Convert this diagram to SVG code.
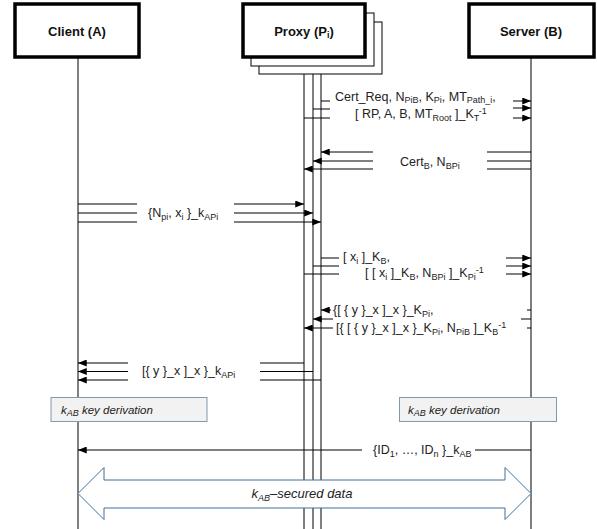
<svg xmlns="http://www.w3.org/2000/svg" width="597" height="529" viewBox="0 0 597 529">
<style>
  .box{fill:#fff;stroke:#000;stroke-width:3.5}
  .sbox{fill:#fff;stroke:#000;stroke-width:1}
  .life{stroke:#000;stroke-width:1;fill:none}
  .msg{stroke:#000;stroke-width:1;fill:none}
  .hd{font-family:"Liberation Sans",Arial,sans-serif;font-weight:bold;font-size:13px;fill:#111;text-anchor:middle}
  .t{font-family:"Liberation Sans",Arial,sans-serif;font-size:12.5px;fill:#222}
  .kt{font-size:11.5px}
  .dt{font-size:13px}
  .it{font-style:italic}
  .s{font-size:9px}
  .kd{fill:#f2f2f2;stroke:#8497b0;stroke-width:1}
  .dbl{fill:#fff;stroke:#41719c;stroke-width:1}
</style>
<defs>
  <marker id="ah" viewBox="0 0 10 8" refX="10" refY="4" markerWidth="9" markerHeight="7" orient="auto" markerUnits="userSpaceOnUse">
    <path d="M0,0 L10,4 L0,8 z" fill="#000"/>
  </marker>
</defs>

<g id="lifelines">
  <line class="life" x1="78" y1="57" x2="78" y2="529"/>
  <line class="life" x1="304" y1="57" x2="304" y2="529"/>
  <line class="life" x1="313" y1="66" x2="313" y2="529"/>
  <line class="life" x1="321" y1="74" x2="321" y2="529"/>
  <line class="life" x1="531" y1="57" x2="531" y2="529"/>
</g>

<g id="client">
  <rect class="box" x="15" y="4" width="124" height="53"/>
  <text class="hd" x="77" y="36">Client (A)</text>
</g>

<g id="proxy">
  <rect class="sbox" x="259" y="22" width="123" height="52"/>
  <rect class="sbox" x="251" y="13" width="123" height="53"/>
  <rect class="box" x="243" y="4" width="122" height="53"/>
  <text class="hd" x="304" y="36">Proxy (P<tspan class="s" dy="2">i</tspan><tspan dy="-2">)</tspan></text>
</g>

<g id="server">
  <rect class="box" x="469" y="4" width="125" height="53"/>
  <text class="hd" x="531" y="36">Server (B)</text>
</g>

<g id="connectors">
  <!-- msg 1 proxy -> server -->
  <line class="msg" x1="321" y1="101" x2="330" y2="101"/>
  <line class="msg" x1="313" y1="109" x2="330" y2="109"/>
  <line class="msg" x1="304" y1="118" x2="330" y2="118"/>
  <line class="msg" x1="513" y1="101" x2="531" y2="101" marker-end="url(#ah)"/>
  <line class="msg" x1="513" y1="108" x2="531" y2="108" marker-end="url(#ah)"/>
  <line class="msg" x1="513" y1="118" x2="531" y2="118" marker-end="url(#ah)"/>
  <!-- msg 2 server -> proxy -->
  <line class="msg" x1="373" y1="152" x2="321" y2="152" marker-end="url(#ah)"/>
  <line class="msg" x1="373" y1="161" x2="313" y2="161" marker-end="url(#ah)"/>
  <line class="msg" x1="373" y1="169" x2="304" y2="169" marker-end="url(#ah)"/>
  <line class="msg" x1="487" y1="152" x2="531" y2="152"/>
  <line class="msg" x1="487" y1="161" x2="531" y2="161"/>
  <line class="msg" x1="487" y1="169" x2="531" y2="169"/>
  <!-- msg 3 client -> proxy -->
  <line class="msg" x1="78" y1="204" x2="137" y2="204"/>
  <line class="msg" x1="78" y1="213" x2="137" y2="213"/>
  <line class="msg" x1="78" y1="222" x2="137" y2="222"/>
  <line class="msg" x1="234" y1="204" x2="304" y2="204" marker-end="url(#ah)"/>
  <line class="msg" x1="234" y1="213" x2="313" y2="213" marker-end="url(#ah)"/>
  <line class="msg" x1="234" y1="222" x2="321" y2="222" marker-end="url(#ah)"/>
  <!-- msg 4 proxy -> server -->
  <line class="msg" x1="321" y1="258" x2="339" y2="258"/>
  <line class="msg" x1="313" y1="266" x2="339" y2="266"/>
  <line class="msg" x1="304" y1="274" x2="339" y2="274"/>
  <line class="msg" x1="506" y1="258" x2="531" y2="258" marker-end="url(#ah)"/>
  <line class="msg" x1="506" y1="266" x2="531" y2="266" marker-end="url(#ah)"/>
  <line class="msg" x1="506" y1="274" x2="531" y2="274" marker-end="url(#ah)"/>
  <!-- msg 5 server -> proxy -->
  <line class="msg" x1="331" y1="310" x2="321" y2="310" marker-end="url(#ah)"/>
  <line class="msg" x1="333" y1="319" x2="313" y2="319" marker-end="url(#ah)"/>
  <line class="msg" x1="333" y1="328" x2="304" y2="328" marker-end="url(#ah)"/>
  <line class="msg" x1="527" y1="310" x2="531" y2="310"/>
  <line class="msg" x1="521" y1="319" x2="531" y2="319"/>
  <line class="msg" x1="527" y1="328" x2="531" y2="328"/>
  <!-- msg 6 proxy -> client -->
  <line class="msg" x1="128" y1="363" x2="78" y2="363" marker-end="url(#ah)"/>
  <line class="msg" x1="128" y1="371.5" x2="78" y2="371.5" marker-end="url(#ah)"/>
  <line class="msg" x1="128" y1="380" x2="78" y2="380" marker-end="url(#ah)"/>
  <line class="msg" x1="260" y1="363" x2="304" y2="363"/>
  <line class="msg" x1="260" y1="371.5" x2="313" y2="371.5"/>
  <line class="msg" x1="260" y1="380" x2="321" y2="380"/>
  <!-- msg 7 server -> client -->
  <line class="msg" x1="362" y1="450" x2="78" y2="450" marker-end="url(#ah)"/>
  <line class="msg" x1="475" y1="450" x2="531" y2="450"/>
</g>

<g id="labels">
  <text class="t" x="335" y="101">Cert_Req, N<tspan class="s" dy="2">PiB</tspan><tspan dy="-2">, K</tspan><tspan class="s" dy="2">Pi</tspan><tspan dy="-2">, MT</tspan><tspan class="s" dy="2">Path_i</tspan><tspan dy="-2">,</tspan></text>
  <text class="t" x="355" y="118">[ RP, A, B, MT<tspan class="s" dy="2.5">Root</tspan><tspan dy="-2.5"> ]_K</tspan><tspan class="s" dy="2.5">T</tspan><tspan class="s" dy="-7">-1</tspan></text>
  <text class="t" x="400" y="166">Cert<tspan class="s" dy="2.5">B</tspan><tspan dy="-2.5">, N</tspan><tspan class="s" dy="2.5">BPi</tspan></text>
  <text class="t" x="148" y="217">{N<tspan class="s" dy="2.5">pi</tspan><tspan dy="-2.5">, x</tspan><tspan class="s" dy="2.5">i</tspan><tspan dy="-2.5"> }_k</tspan><tspan class="s" dy="2.5">APi</tspan></text>
  <text class="t" x="343" y="261">[ x<tspan class="s" dy="2.5">i</tspan><tspan dy="-2.5"> ]_K</tspan><tspan class="s" dy="2.5">B</tspan><tspan dy="-2.5">,</tspan></text>
  <text class="t" x="365" y="277">[ [ x<tspan class="s" dy="2.5">i</tspan><tspan dy="-2.5"> ]_K</tspan><tspan class="s" dy="2.5">B</tspan><tspan dy="-2.5">, N</tspan><tspan class="s" dy="2.5">BPi</tspan><tspan dy="-2.5"> ]_K</tspan><tspan class="s" dy="2.5">Pi</tspan><tspan class="s" dy="-7">-1</tspan></text>
  <text class="t" x="333" y="314">{[ { y }_x ]_x }_K<tspan class="s" dy="2.5">Pi</tspan><tspan dy="-2.5">,</tspan></text>
  <text class="t" x="336" y="332">[{ [ { y }_x ]_x }_K<tspan class="s" dy="2.5">Pi</tspan><tspan dy="-2.5">, N</tspan><tspan class="s" dy="2.5">PiB</tspan><tspan dy="-2.5"> ]_K</tspan><tspan class="s" dy="2.5">B</tspan><tspan class="s" dy="-7">-1</tspan></text>
  <text class="t" x="142" y="375">[{ y }_x ]_x }_k<tspan class="s" dy="2.5">APi</tspan></text>
  <text class="t" x="373" y="454">{ID<tspan class="s" dy="2.5">1</tspan><tspan dy="-2.5">, …, ID</tspan><tspan class="s" dy="2.5">n</tspan><tspan dy="-2.5"> }_k</tspan><tspan class="s" dy="2.5">AB</tspan></text>
</g>

<g id="keyderiv-a">
  <rect class="kd" x="51" y="397.5" width="156" height="24"/>
  <text class="t kt it" x="61" y="414">k<tspan class="s" dy="2">AB</tspan><tspan dy="-2"> key derivation</tspan></text>
</g>
<g id="keyderiv-b">
  <rect class="kd" x="399.5" y="397.5" width="157" height="24"/>
  <text class="t kt it" x="408" y="414">k<tspan class="s" dy="2">AB</tspan><tspan dy="-2"> key derivation</tspan></text>
</g>

<g id="secured-data">
  <path class="dbl" d="M78,493.5 L104,467.5 L104,480 L505,480 L505,467.5 L531,493.5 L505,519.5 L505,508 L104,508 L104,519.5 Z"/>
  <text class="t dt it" x="302" y="498" text-anchor="middle">k<tspan class="s" dy="2.5">AB</tspan><tspan dy="-2.5">–secured data</tspan></text>
</g>
</svg>
